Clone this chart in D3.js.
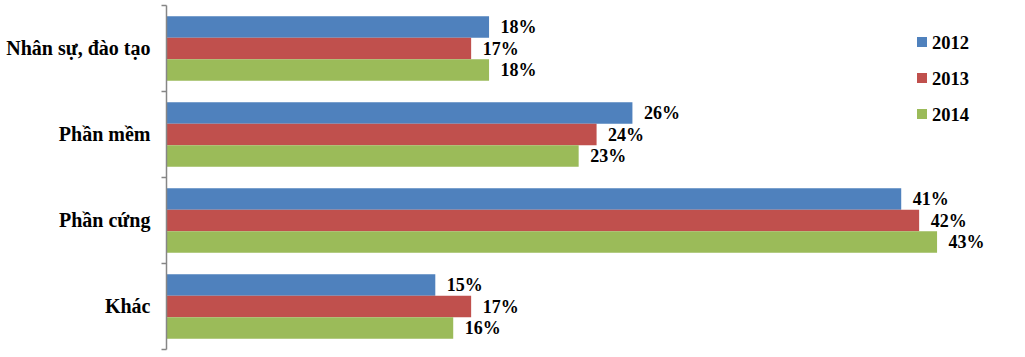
<!DOCTYPE html>
<html><head><meta charset="utf-8">
<script src="https://cdn.jsdelivr.net/npm/d3@7"></script>
</head>
<body style="margin:0;background:#fff"><svg id="c" width="1025" height="357"></svg>
<script>
const categories = ["Nhân sự, đào tạo", "Phần mềm", "Phần cứng", "Khác"];
const years = ["2012", "2013", "2014"];
const v2012 = [18, 26, 41, 15];
const v2013 = [17, 24, 42, 17];
const v2014 = [18, 23, 43, 16];
const colors = ["#4F81BD", "#C0504D", "#9BBB59"];

const FONT = "Liberation Serif";
const series = [v2012, v2013, v2014];
const svg = d3.select("#c");

const y = d3.scaleBand().domain(categories).range([5.5, 349.5]).paddingInner(0.25).paddingOuter(0.125);
const y1 = d3.scaleBand().domain(years).range([0, y.bandwidth()]);
const x = d3.scaleLinear().domain([0, 45]).range([166.5, 972.9]);

// bars
const g = svg.append("g");
categories.forEach((c, ci) => {
  years.forEach((yr, si) => {
    const v = series[si][ci];
    g.append("rect")
      .attr("x", x(0)).attr("y", y(c) + y1(yr))
      .attr("width", x(v) - x(0)).attr("height", y1.bandwidth())
      .attr("fill", colors[si]);
    g.append("text")
      .attr("x", x(v) + 11.5).attr("y", y(c) + y1(yr) + y1.bandwidth() / 2)
      .attr("dy", "0.36em").attr("font-size", 18)
      .attr("font-family", FONT).attr("font-weight", "bold").attr("fill", "#000")
      .text(v + "%");
  });
});

// axis
const axis = svg.append("g").attr("transform", `translate(${x(0)},0)`)
  .call(d3.axisLeft(y).tickSize(0).tickPadding(16));
axis.attr("font-family", FONT);
axis.select(".domain").remove();
axis.selectAll("text").attr("font-size", 20).attr("font-family", FONT)
  .attr("font-weight", "bold").attr("fill", "#000");
const [r0, r1] = y.range();
const bounds = categories.map((c, i) => r0 + i * y.step()).concat([r1]);
svg.append("line").attr("x1", x(0)).attr("x2", x(0)).attr("y1", r0).attr("y2", r1)
  .attr("stroke", "#868686").attr("stroke-width", 1.5);
svg.selectAll(".tk").data(bounds).enter().append("line")
  .attr("x1", x(0) - 5).attr("x2", x(0)).attr("y1", d => d).attr("y2", d => d)
  .attr("stroke", "#868686").attr("stroke-width", 1.5);

// legend
const lg = svg.append("g");
years.forEach((yr, i) => {
  const cy = 42 + i * 36;
  lg.append("rect").attr("x", 917).attr("y", cy - 5).attr("width", 10).attr("height", 10).attr("fill", colors[i]);
  lg.append("text").attr("x", 932).attr("y", cy).attr("dy", "0.36em").attr("font-size", 18.5)
    .attr("font-family", FONT).attr("font-weight", "bold").attr("fill", "#000").text(yr);
});
</script></body></html>
